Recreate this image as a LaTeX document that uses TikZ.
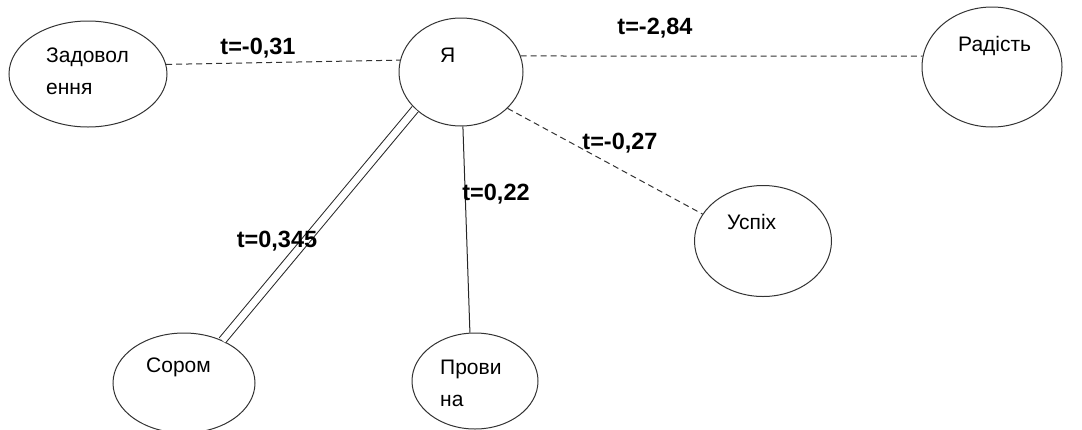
\documentclass[tikz,border=0pt]{standalone}
\usepackage{fontspec}
\setmainfont{Liberation Sans}
\usetikzlibrary{shapes.geometric}
\usetikzlibrary{positioning}

\begin{document}
\begin{tikzpicture}[x=1pt, y=-1pt,
    bubble/.style={ellipse, draw=black!80, line width=1pt, inner sep=0pt},
    word/.style={anchor=west, inner sep=0pt, align=left,
      font=\fontsize{21}{32}\selectfont},
    tval/.style={inner sep=0pt, font=\bfseries\fontsize{23.5}{25}\selectfont},
    weak/.style={draw=black!80, line width=1pt, dash pattern=on 6pt off 4pt},
    link/.style={draw=black!85, line width=1pt}]

    \useasboundingbox (0, 0) rectangle (1082, 429);

    % concepts
    \node [bubble, minimum width=158, minimum height=106] (zad) at (88, 74) {};
    \node [bubble, minimum width=124, minimum height=108] (ya) at (461, 72) {};
    \node [bubble, minimum width=140, minimum height=120] (rad) at (992, 67) {};
    \node [bubble, minimum width=137, minimum height=111] (usp) at (763, 241) {};
    \node [bubble, minimum width=142, minimum height=100] (sor) at (184, 383) {};
    \node [bubble, minimum width=126, minimum height=96] (prov) at (475, 381) {};

    % texts
    \node [word] (zadtxt) at (46, 71) {Задовол\\ення};
    \node [word] (yatxt) at (440, 55) {Я};
    \node [word] (radtxt) at (958, 46) {Радість};
    \node [word] (usptxt) at (727, 222) {Успіх};
    \node [word] (sortxt) at (146, 367) {Сором};
    \node [word] (provtxt) at (440, 383) {Прови\\на};

    % links
    \draw [weak] (zad.7) -- (ya.169);
    \draw [weak] (ya.15) -- (rad.171);
    \draw [weak] (ya.-38) -- (usp.156);
    \draw [link] (ya.-88) -- (prov.96);
    \draw [link, double=white, double distance=7pt] (ya.219) -- (sor.48);

    % t values
    \node [tval] (t31) at (258, 48) {t=-0,31};
    \node [tval] (t284) at (655, 28) {t=-2,84};
    \node [tval] (t27) at (620, 143) {t=-0,27};
    \node [tval] (t22) at (496, 194) {t=0,22};
    \node [tval] (t345) at (277, 241) {t=0,345};

  \end{tikzpicture}
\end{document}
